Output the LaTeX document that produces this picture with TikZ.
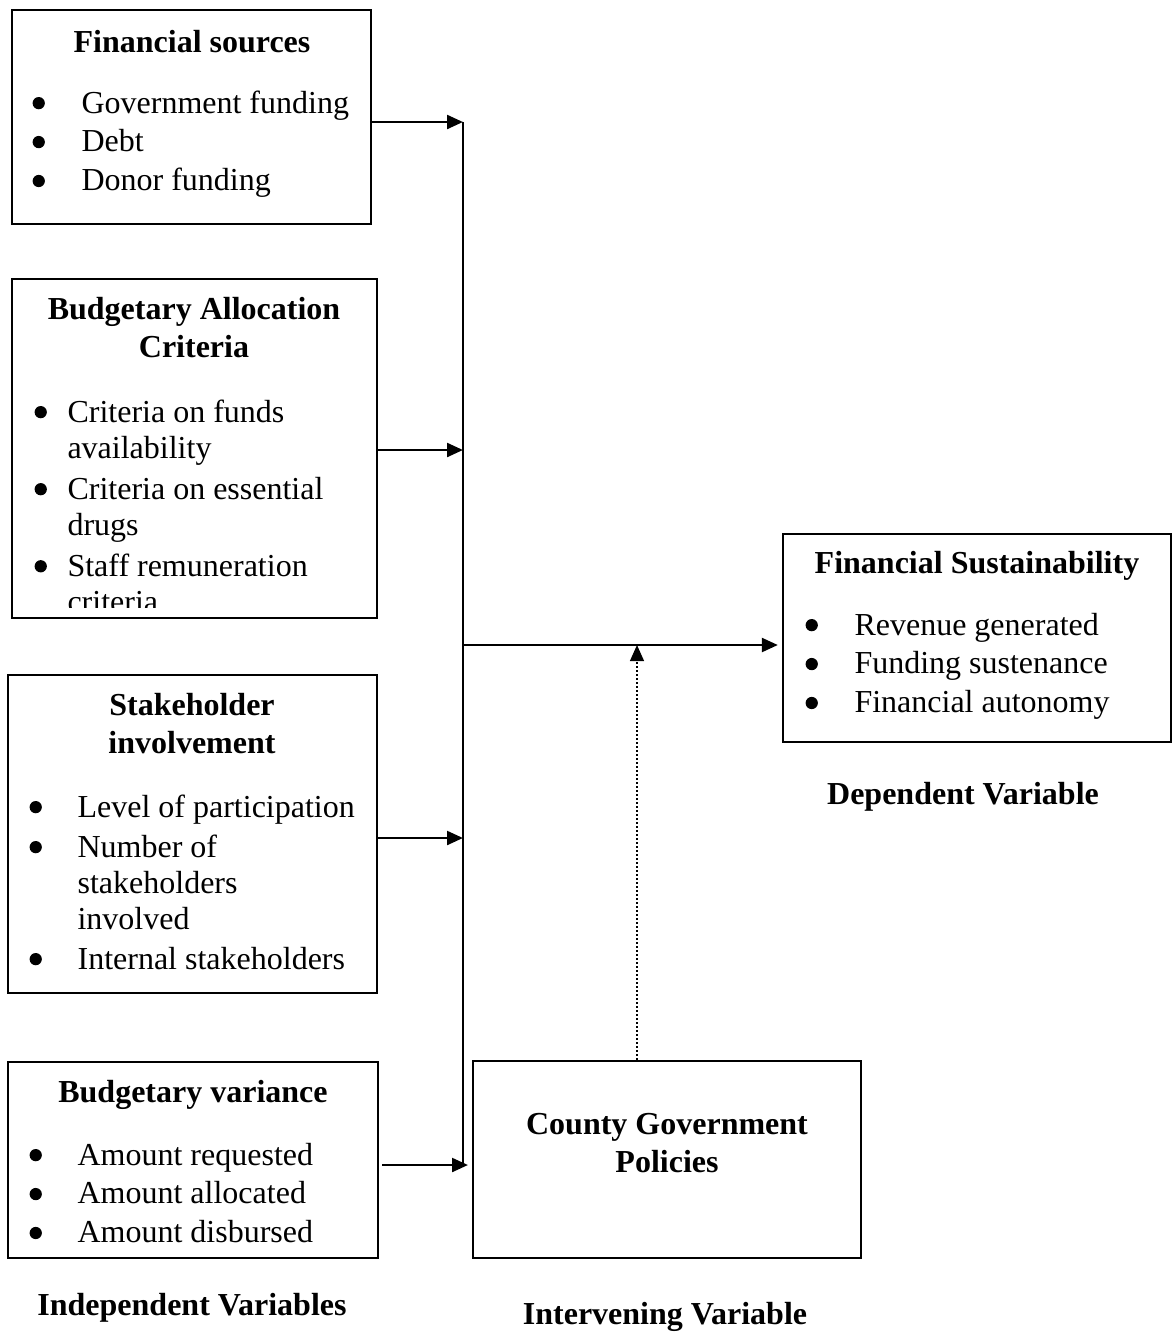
\documentclass[tikz,border=0pt]{standalone}
\usepackage{fontspec}
\setmainfont{Liberation Serif}
\usetikzlibrary{arrows.meta,fit}

\newcommand{\twelve}{\fontsize{12}{13.5}\selectfont}
\newcommand{\dotmark}{\hspace*{0.4pt}\raisebox{1.4pt}{\tikz\fill (0,0) circle (2.3pt);}}

\tikzset{
  varbox/.style={draw, line width=0.85pt, inner sep=0pt},
  head/.style={anchor=base, inner sep=0pt, font=\twelve\bfseries},
  items/.style={anchor=base west, inner sep=0pt, font=\twelve},
  link/.style={line width=1pt, -{Triangle[length=6pt,width=5.2pt]}},
}

\begin{document}
\begin{tikzpicture}[x=0.375pt, y=-0.375pt]
    \useasboundingbox (0,0) rectangle (1174,1333);

    % independent variables
    \node (fsrc) [varbox, fit={(12,10) (371,224)}] {};
    \node (fsrct) [head] at (192,52) {Financial sources};
    \node (fsrcl) [items] at (31,113) {\begin{tabular}[t]{@{}p{18.75pt}@{}l@{}}
        \dotmark & Government funding\\[1.1pt]
        \dotmark & Debt\\[1.1pt]
        \dotmark & Donor funding
    \end{tabular}};

    \node (bac) [varbox, fit={(12,279) (377,618)}] {};
    \node (bact) [head] at (194,319) {\begin{tabular}[t]{@{}c@{}}
        Budgetary Allocation\\[1.1pt] Criteria
    \end{tabular}};
    \begin{scope}
        \clip (12,279) rectangle (377,607);
        \node (bacl) [items] at (33,422) {\begin{tabular}[t]{@{}p{12.75pt}@{}l@{}}
            \dotmark & Criteria on funds\\
                     & availability\\[1.9pt]
            \dotmark & Criteria on essential\\
                     & drugs\\[1.9pt]
            \dotmark & Staff remuneration\\
                     & criteria
        \end{tabular}};
    \end{scope}

    \node (shi) [varbox, fit={(8,675) (377,993)}] {};
    \node (shit) [head] at (192,715) {\begin{tabular}[t]{@{}c@{}}
        Stakeholder\\[1.1pt] involvement
    \end{tabular}};
    \node (shil) [items] at (28,817) {\begin{tabular}[t]{@{}p{18.4pt}@{}l@{}}
        \dotmark & Level of participation\\[1.5pt]
        \dotmark & Number of\\
                 & stakeholders\\
                 & involved\\[1.5pt]
        \dotmark & Internal stakeholders
    \end{tabular}};

    \node (bvar) [varbox, fit={(8,1062) (378,1258)}] {};
    \node (bvart) [head] at (193,1102) {Budgetary variance};
    \node (bvarl) [items] at (28,1165) {\begin{tabular}[t]{@{}p{18.4pt}@{}l@{}}
        \dotmark & Amount requested\\[1.1pt]
        \dotmark & Amount allocated\\[1.1pt]
        \dotmark & Amount disbursed
    \end{tabular}};

    % intervening variable
    \node (cgp) [varbox, fit={(473,1061) (861,1258)}] {};
    \node (cgpt) [head] at (667,1134) {\begin{tabular}[t]{@{}c@{}}
        County Government\\[1.1pt] Policies
    \end{tabular}};

    % dependent variable
    \node (fsus) [varbox, fit={(783,534) (1171,742)}] {};
    \node (fsust) [head] at (977,573) {Financial Sustainability};
    \node (fsusl) [items] at (804,635) {\begin{tabular}[t]{@{}p{18.75pt}@{}l@{}}
        \dotmark & Revenue generated\\[1.1pt]
        \dotmark & Funding sustenance\\[1.1pt]
        \dotmark & Financial autonomy
    \end{tabular}};

    % captions
    \node (dep) [head] at (963,804) {Dependent Variable};
    \node (indep) [head] at (192,1315) {Independent Variables};
    \node (interv) [head] at (665,1324) {Intervening Variable};

    % connectors
    \coordinate (j1) at (463,122);
    \coordinate (j2) at (463,450);
    \coordinate (j3) at (463,838);
    \coordinate (j4) at (463,1165);
    \coordinate (j4tip) at (468,1165);
    \coordinate (jm) at (463,645);
    \coordinate (dt) at (637,645);

    \draw[line width=1pt] (j1) -- (j4);
    \draw[link] (fsrc.east |- j1) -- (j1);
    \draw[link] (bac.east |- j2) -- (j2);
    \draw[link] (shi.east |- j3) -- (j3);
    \draw[link] ([xshift=1.1pt]bvar.east |- j4) -- (j4tip);
    \draw[link, shorten >=1.5pt] (jm) -- (jm -| fsus.west);
    \draw[link, line width=0.6pt, dash pattern=on 0.6pt off 0.9pt] (dt |- cgp.north) -- (dt);
\end{tikzpicture}
\end{document}
